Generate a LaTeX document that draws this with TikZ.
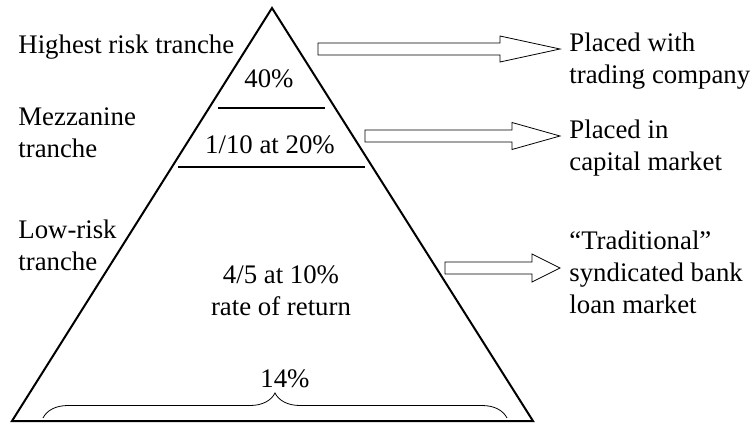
\documentclass[tikz,border=0pt]{standalone}
\usepackage{fontspec}
\setmainfont{Liberation Serif}
\usetikzlibrary{calc,decorations.pathreplacing}

\tikzset{
  lbl/.style={align=left, inner sep=0pt, anchor=base west},
  mid/.style={align=center, inner sep=0pt, anchor=base},
  blk/.style={draw, line width=0.4pt, fill=white},
  edge/.style={line width=1pt}
}
% block arrow: tail, tip, head length, head half width
\newcommand{\fatarrow}[4]{%
  \draw[blk] ($(#1)+(0,6)$) -- ($(#2)+(-#3,6)$) -- ($(#2)+(-#3,#4)$) -- (#2)
    -- ($(#2)+(-#3,-#4)$) -- ($(#2)+(-#3,-6)$) -- ($(#1)+(0,-6)$) -- cycle;}

\begin{document}
\begin{tikzpicture}[x=0.5pt, y=-0.5pt, font=\fontsize{13.4}{15.8}\selectfont]
  \useasboundingbox (0,0) rectangle (751,424);
  % pyramid
  \draw[edge, line join=miter] (272,8) -- (12,421) -- (533,421) -- cycle;
  \draw[edge] (218,108) -- (325,108);
  \draw[edge] (178,167) -- (365,167);
  % tranche names (base = last line)
  \node[lbl] (H) at (18,53) {Highest risk tranche};
  \node[lbl] (M) at (18,157) {Mezzanine\\tranche};
  \node[lbl] (L) at (18,270) {Low-risk\\tranche};
  % inside
  \node[mid] (p1) at (269,87) {40\%};
  \node[mid] (p2) at (270,153) {1/10 at 20\%};
  \node[mid] (p3) at (281,315) {4/5 at 10\%\\rate of return};
  \node[mid] (p4) at (285,387) {14\%};
  \draw[decorate, decoration={brace, amplitude=12.5pt}] (43,418) -- (507,418);
  % where placed
  \node[lbl] (T) at (569,83) {Placed with\\trading company};
  \node[lbl] (C) at (569,170) {Placed in\\capital market};
  \node[lbl] (S) at (569,313) {``Traditional''\\syndicated bank\\loan market};
  \coordinate (a1) at (318,49);  \coordinate (b1) at (560,49);
  \coordinate (a2) at (365,136); \coordinate (b2) at (560,136);
  \coordinate (a3) at (445,268); \coordinate (b3) at (560,268);
  \fatarrow{a1}{b1}{60}{13}
  \fatarrow{a2}{b2}{48}{13.5}
  \fatarrow{a3}{b3}{28}{14}
\end{tikzpicture}
\end{document}
